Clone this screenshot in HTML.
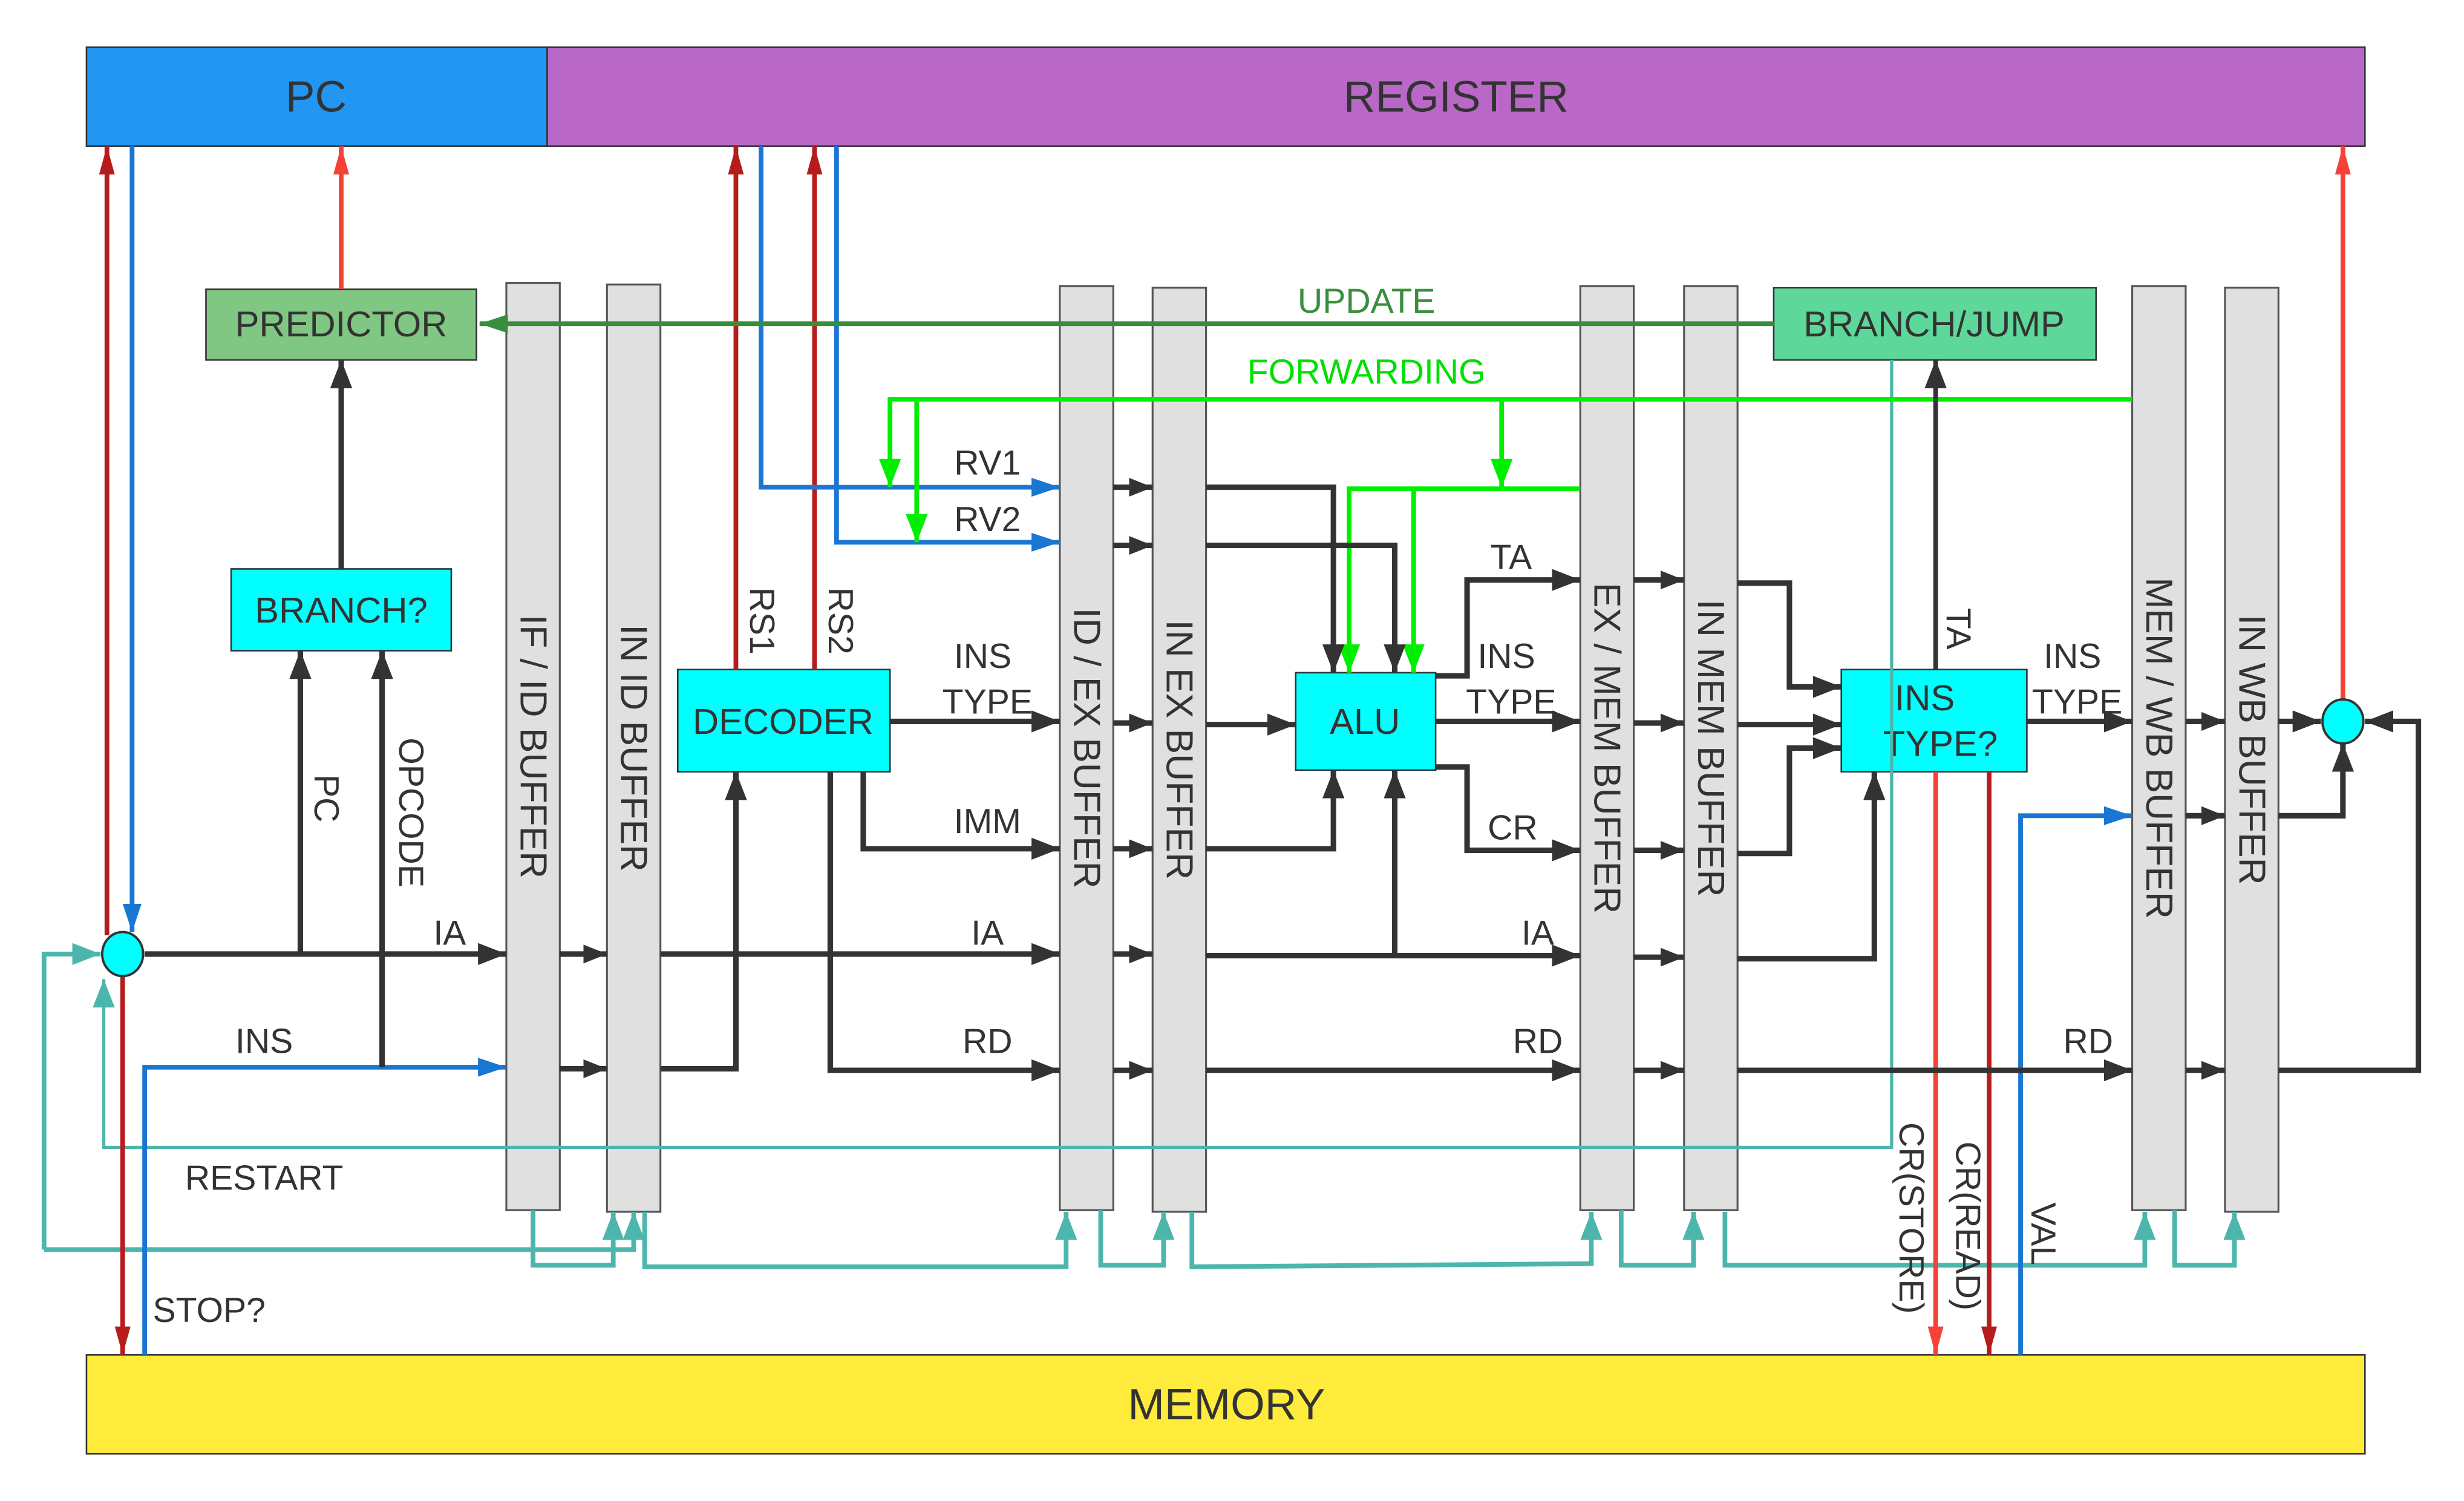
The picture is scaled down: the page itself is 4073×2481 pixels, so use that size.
<!DOCTYPE html>
<html><head><meta charset="utf-8"><style>html,body{margin:0;padding:0;background:#fff}svg{display:block}</style></head>
<body>
<svg xmlns="http://www.w3.org/2000/svg" width="4073" height="2481" viewBox="0 0 1567 955" preserveAspectRatio="none" font-family="Liberation Sans, sans-serif">
<defs>
<marker id="k" markerUnits="userSpaceOnUse" markerWidth="20" markerHeight="14" refX="18" refY="7" orient="auto"><path d="M0,0 L18,7 L0,14 z" fill="#333"/></marker>
<marker id="ks" markerUnits="userSpaceOnUse" markerWidth="16" markerHeight="12" refX="15" refY="6" orient="auto"><path d="M0,0 L15,6 L0,12 z" fill="#333"/></marker>
<marker id="r" markerUnits="userSpaceOnUse" markerWidth="20" markerHeight="14" refX="18" refY="7" orient="auto"><path d="M0,2 L18,7 L0,12 z" fill="#F44336"/></marker>
<marker id="dr" markerUnits="userSpaceOnUse" markerWidth="20" markerHeight="14" refX="18" refY="7" orient="auto"><path d="M0,2 L18,7 L0,12 z" fill="#B71C1C"/></marker>
<marker id="b" markerUnits="userSpaceOnUse" markerWidth="20" markerHeight="14" refX="18" refY="7" orient="auto"><path d="M0,1 L18,7 L0,13 z" fill="#1976D2"/></marker>
<marker id="g" markerUnits="userSpaceOnUse" markerWidth="20" markerHeight="14" refX="18" refY="7" orient="auto"><path d="M0,0 L18,7 L0,14 z" fill="#00EE00"/></marker>
<marker id="dg" markerUnits="userSpaceOnUse" markerWidth="20" markerHeight="14" refX="18" refY="7" orient="auto"><path d="M0,1 L18,7 L0,13 z" fill="#388E3C"/></marker>
<marker id="t" markerUnits="userSpaceOnUse" markerWidth="20" markerHeight="14" refX="18" refY="7" orient="auto"><path d="M0,0 L18,7 L0,14 z" fill="#4DB6AC"/></marker>
</defs>

<rect x="55" y="30" width="293" height="63" fill="#2196F3" stroke="#333" stroke-width="1"/>
<rect x="348" y="30" width="1156" height="63" fill="#B968C7" stroke="#333" stroke-width="1"/>
<rect x="55" y="862" width="1449" height="63" fill="#FFEB3B" stroke="#333" stroke-width="1"/>
<g fill="#333" font-size="28" text-anchor="middle">
<text x="201" y="71">PC</text><text x="926" y="71">REGISTER</text><text x="780" y="903">MEMORY</text>
</g>

<g fill="#E0E0E0" stroke="#555" stroke-width="1.2">
<rect x="322" y="180" width="34" height="590"/><rect x="386" y="181" width="34" height="590"/>
<rect x="674" y="182" width="34" height="588"/><rect x="733" y="183" width="34" height="588"/>
<rect x="1005" y="182" width="34" height="588"/><rect x="1071" y="182" width="34" height="588"/>
<rect x="1356" y="182" width="34" height="588"/><rect x="1415" y="183" width="34" height="588"/>
</g>
<g fill="#333" font-size="24" text-anchor="middle">
<text transform="translate(331,475) rotate(90)">IF / ID BUFFER</text>
<text transform="translate(395,476) rotate(90)">IN ID BUFFER</text>
<text transform="translate(683,476) rotate(90)">ID / EX BUFFER</text>
<text transform="translate(742,477) rotate(90)">IN EX BUFFER</text>
<text transform="translate(1014,476) rotate(90)">EX / MEM BUFFER</text>
<text transform="translate(1080,476) rotate(90)">IN MEM BUFFER</text>
<text transform="translate(1365,476) rotate(90)">MEM / WB BUFFER</text>
<text transform="translate(1424,477) rotate(90)">IN WB BUFFER</text>
</g>

<rect x="131" y="184" width="172" height="45" fill="#81C784" stroke="#333" stroke-width="1"/>
<rect x="1128" y="183" width="205" height="46" fill="#5ED89A" stroke="#333" stroke-width="1"/>
<rect x="147" y="362" width="140" height="52" fill="#00FFFF" stroke="#333" stroke-width="1"/>
<rect x="431" y="426" width="135" height="65" fill="#00FFFF" stroke="#333" stroke-width="1"/>
<rect x="824" y="428" width="89" height="62" fill="#00FFFF" stroke="#333" stroke-width="1"/>
<rect x="1171" y="426" width="118" height="65" fill="#00FFFF" stroke="#333" stroke-width="1"/>
<g fill="#333" font-size="23" text-anchor="middle">
<text x="217" y="214">PREDICTOR</text><text x="1230" y="214">BRANCH/JUMP</text>
<text x="217" y="396">BRANCH?</text><text x="498" y="467">DECODER</text>
<text x="868" y="467">ALU</text>
<text x="1224" y="452">INS</text><text x="1234" y="481">TYPE?</text>
</g>

<g fill="none" stroke="#4DB6AC" stroke-width="3">
<path d="M1203,229 V730 H66 V623" marker-end="url(#t)" stroke-width="2"/>
<path d="M28,795 V607 H64" marker-end="url(#t)"/>
<path d="M28,795 H403 V771" marker-end="url(#t)"/>
<path d="M339,770 V805 H390 V771" marker-end="url(#t)"/>
<path d="M410,771 V806 H678 V771" marker-end="url(#t)"/>
<path d="M700,770 V805 H740 V771" marker-end="url(#t)"/>
<path d="M758,771 V806 L1012,804 V771" marker-end="url(#t)"/>
<path d="M1031,770 V805 H1077 V771" marker-end="url(#t)"/>
<path d="M1097,771 V805 H1364 V771" marker-end="url(#t)"/>
<path d="M1383,770 V805 H1421 V771" marker-end="url(#t)"/>
</g>

<g fill="none" stroke-width="3">
<path d="M68,595 V93" stroke="#B71C1C" marker-end="url(#dr)"/>
<path d="M78,621 V862" stroke="#B71C1C" marker-end="url(#dr)"/>
<path d="M217,184 V93" stroke="#F44336" marker-end="url(#r)"/>
<path d="M1490,445 V93" stroke="#F44336" marker-end="url(#r)"/>
<path d="M468,426 V93" stroke="#B71C1C" marker-end="url(#dr)"/>
<path d="M518,426 V93" stroke="#B71C1C" marker-end="url(#dr)"/>
<path d="M1231,491 V862" stroke="#F44336" marker-end="url(#r)"/>
<path d="M1265,491 V862" stroke="#B71C1C" marker-end="url(#dr)"/>
</g>

<g fill="none" stroke="#1976D2" stroke-width="3">
<path d="M84,93 V593" marker-end="url(#b)"/>
<path d="M484,93 V310 H674" marker-end="url(#b)"/>
<path d="M532,93 V345 H674" marker-end="url(#b)"/>
<path d="M92,862 V679 H322" marker-end="url(#b)"/>
<path d="M1285,862 V519 H1356" marker-end="url(#b)"/>
</g>

<path d="M1128,206 H305" fill="none" stroke="#388E3C" stroke-width="3" marker-end="url(#dg)"/>
<g fill="none" stroke="#00EE00" stroke-width="3">
<path d="M1356,254 H566 V310" marker-end="url(#g)"/>
<path d="M583,254 V345" marker-end="url(#g)"/>
<path d="M955,254 V310" marker-end="url(#g)"/>
<path d="M1005,311 H858 V428" marker-end="url(#g)"/>
<path d="M899,311 V428" marker-end="url(#g)"/>
</g>

<g fill="none" stroke="#333" stroke-width="3.5">
<path d="M217,362 V229" marker-end="url(#k)"/>
<path d="M92,607 H322" marker-end="url(#k)"/>
<path d="M191,607 V414" marker-end="url(#k)"/>
<path d="M243,679 V414" marker-end="url(#k)"/>
<path d="M356,607 H386" marker-end="url(#ks)"/>
<path d="M356,680 H386" marker-end="url(#ks)"/>
<path d="M420,607 H674" marker-end="url(#k)"/>
<path d="M420,680 H468 V491" marker-end="url(#k)"/>
<path d="M566,459 H674" marker-end="url(#k)"/>
<path d="M549,491 V540 H674" marker-end="url(#k)"/>
<path d="M528,491 V681 H674" marker-end="url(#k)"/>
<path d="M708,310 H733" marker-end="url(#ks)"/>
<path d="M708,347 H733" marker-end="url(#ks)"/>
<path d="M708,460 H733" marker-end="url(#ks)"/>
<path d="M708,540 H733" marker-end="url(#ks)"/>
<path d="M708,607 H733" marker-end="url(#ks)"/>
<path d="M708,681 H733" marker-end="url(#ks)"/>
<path d="M767,310 H848 V428" marker-end="url(#k)"/>
<path d="M767,347 H887 V428" marker-end="url(#k)"/>
<path d="M767,461 H824" marker-end="url(#k)"/>
<path d="M767,540 H848 V490" marker-end="url(#k)"/>
<path d="M767,608 H1005" marker-end="url(#k)"/>
<path d="M887,608 V490" marker-end="url(#k)"/>
<path d="M767,681 H1005" marker-end="url(#k)"/>
<path d="M913,430 H933 V369 H1005" marker-end="url(#k)"/>
<path d="M913,459 H1005" marker-end="url(#k)"/>
<path d="M913,488 H933 V541 H1005" marker-end="url(#k)"/>
<path d="M1039,369 H1071" marker-end="url(#ks)"/>
<path d="M1039,460 H1071" marker-end="url(#ks)"/>
<path d="M1039,541 H1071" marker-end="url(#ks)"/>
<path d="M1039,609 H1071" marker-end="url(#ks)"/>
<path d="M1039,681 H1071" marker-end="url(#ks)"/>
<path d="M1105,371 H1138 V437 H1171" marker-end="url(#k)"/>
<path d="M1105,461 H1171" marker-end="url(#k)"/>
<path d="M1105,543 H1138 V476 H1171" marker-end="url(#k)"/>
<path d="M1105,610 H1192 V491" marker-end="url(#k)"/>
<path d="M1105,681 H1356" marker-end="url(#k)"/>
<path d="M1231,426 V229" marker-end="url(#k)" stroke-width="3"/>
<path d="M1289,459 H1356" marker-end="url(#k)"/>
<path d="M1390,459 H1415" marker-end="url(#ks)"/>
<path d="M1390,519 H1415" marker-end="url(#ks)"/>
<path d="M1390,681 H1415" marker-end="url(#ks)"/>
<path d="M1449,459 H1476" marker-end="url(#k)"/>
<path d="M1449,519 H1490 V473" marker-end="url(#k)"/>
<path d="M1449,681 H1538 V459 H1504" marker-end="url(#k)"/>
</g>

<ellipse cx="78" cy="607" rx="13" ry="14" fill="#00FFFF" stroke="#333" stroke-width="1.5"/>
<ellipse cx="1490" cy="459" rx="13" ry="14" fill="#00FFFF" stroke="#333" stroke-width="1.5"/>

<g fill="#333" font-size="22" text-anchor="middle">
<text x="286" y="601">IA</text><text x="628" y="601">IA</text><text x="978" y="601">IA</text>
<text x="168" y="670">INS</text><text x="628" y="670">RD</text><text x="978" y="670">RD</text><text x="1328" y="670">RD</text>
<text x="168" y="757">RESTART</text><text x="133" y="841">STOP?</text>
<text x="628" y="302">RV1</text><text x="628" y="338">RV2</text>
<text x="625" y="425">INS</text><text x="628" y="454">TYPE</text>
<text x="628" y="530">IMM</text>
<text x="961" y="362">TA</text><text x="958" y="425">INS</text><text x="961" y="454">TYPE</text>
<text x="962" y="534">CR</text>
<text x="1318" y="425">INS</text><text x="1321" y="454">TYPE</text>
<text transform="translate(477,395) rotate(90)">RS1</text>
<text transform="translate(527,395) rotate(90)">RS2</text>
<text transform="translate(1238,400) rotate(90)">TA</text>
<text transform="translate(200,508) rotate(90)">PC</text>
<text transform="translate(254,517) rotate(90)">OPCODE</text>
<text transform="translate(1208,775) rotate(90)">CR(STORE)</text>
<text transform="translate(1244,780) rotate(90)">CR(READ)</text>
<text transform="translate(1292,785) rotate(90)">VAL</text>
</g>
<text x="869" y="199" fill="#388E3C" font-size="22" text-anchor="middle">UPDATE</text>
<text x="869" y="244" fill="#00E000" font-size="22" text-anchor="middle">FORWARDING</text>
</svg>
</body></html>
